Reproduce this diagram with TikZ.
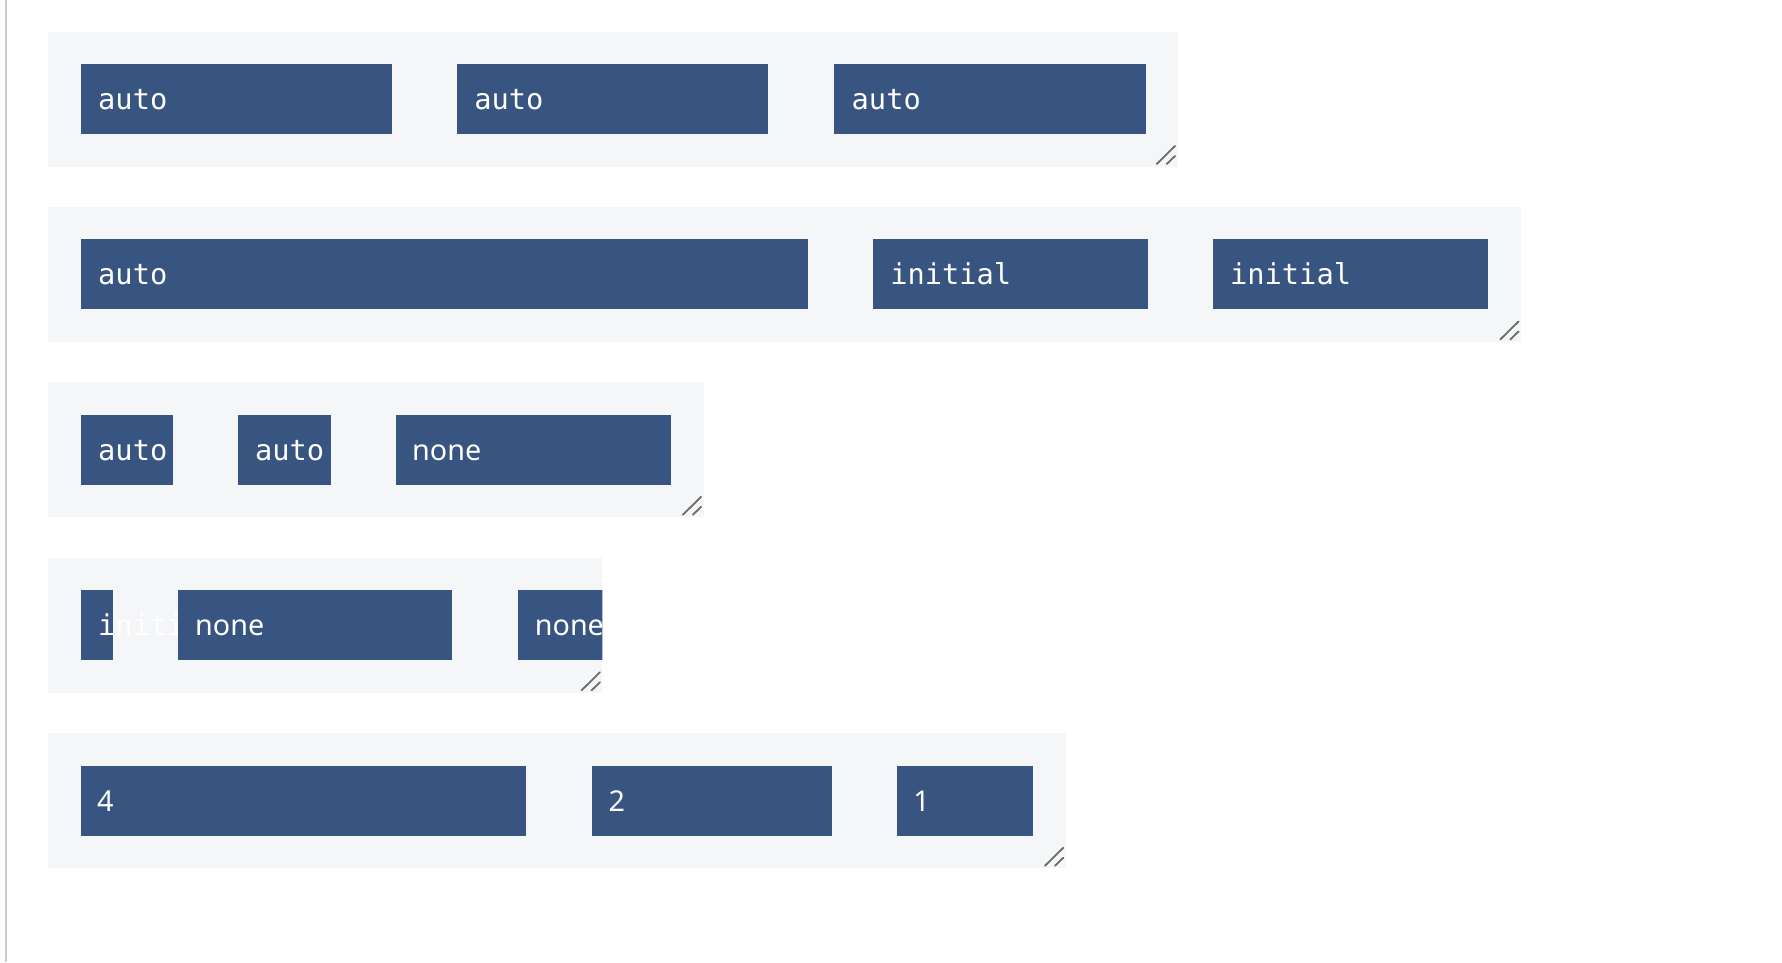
\documentclass[tikz,border=0pt]{standalone}
\usepackage{fontspec}
\newfontfamily\monof{DejaVu Sans Mono}
\newfontfamily\sansf{Noto Sans}
\definecolor{itembg}{HTML}{385480}
\definecolor{contbg}{HTML}{F5F6F8}
\definecolor{handlec}{HTML}{6B6B6B}
\definecolor{rulec}{HTML}{CCCCCC}
\tikzset{
  container/.style={fill=contbg, draw=none, inner sep=0pt, outer sep=0pt, anchor=north west, minimum height=135pt},
  item/.style={fill=itembg, draw=none, inner sep=0pt, outer sep=0pt, anchor=north west, minimum height=70pt},
  monotxt/.style={font=\monof\fontsize{28.7}{34}\selectfont, text=white, anchor=base west, inner sep=0pt},
  sanstxt/.style={font=\sansf\fontsize{28.7}{34}\selectfont, text=white, anchor=base west, inner sep=0pt},
  handle/.style={draw=handlec, line width=1.8pt, line cap=round},
}
\begin{document}
\begin{tikzpicture}[x=1pt,y=-1pt]
\useasboundingbox (0,0) rectangle (1782,962);
\fill[white] (0,0) rectangle (1782,962);
\fill[rulec] (5,0) rectangle (7,962);

% Row 1
\node[container, minimum width=1129.8pt] (c1) at (47.7,31.5) {};
\node[item, minimum width=311.4pt] (r1a) at (80.7,63.8) {};
\node[monotxt] (t1a) at (98,109.3) {auto};
\node[item, minimum width=311.4pt] (r1b) at (456.9,63.8) {};
\node[monotxt] (t1b) at (474.2,109.3) {auto};
\node[item, minimum width=311.4pt] (r1c) at (834.2,63.8) {};
\node[monotxt] (t1c) at (851.5,109.3) {auto};
\draw[handle] ([shift={(-20.7,-2.6)}]c1.south east) -- ([shift={(-2.4,-20.6)}]c1.south east);
\draw[handle] ([shift={(-10.7,-2.6)}]c1.south east) -- ([shift={(-2.4,-10.6)}]c1.south east);

% Row 2
\node[container, minimum width=1473.3pt] (c2) at (47.7,207) {};
\node[item, minimum width=727.3pt] (r2a) at (80.7,239.3) {};
\node[monotxt] (t2a) at (98,284.8) {auto};
\node[item, minimum width=275.1pt] (r2b) at (872.8,239.3) {};
\node[monotxt] (t2b) at (890.1,284.8) {initial};
\node[item, minimum width=275.1pt] (r2c) at (1212.6,239.3) {};
\node[monotxt] (t2c) at (1229.9,284.8) {initial};
\draw[handle] ([shift={(-20.7,-2.6)}]c2.south east) -- ([shift={(-2.4,-20.6)}]c2.south east);
\draw[handle] ([shift={(-10.7,-2.6)}]c2.south east) -- ([shift={(-2.4,-10.6)}]c2.south east);

% Row 3
\node[container, minimum width=655.8pt] (c3) at (47.7,382.4) {};
\node[item, minimum width=92pt] (r3a) at (80.7,414.7) {};
\node[monotxt] (t3a) at (98,460.2) {auto};
\node[item, minimum width=93.2pt] (r3b) at (237.5,414.7) {};
\node[monotxt] (t3b) at (254.8,460.2) {auto};
\node[item, minimum width=275pt] (r3c) at (395.5,414.7) {};
\node[sanstxt] (t3c) at (412,460.2) {none};
\draw[handle] ([shift={(-20.7,-2.6)}]c3.south east) -- ([shift={(-2.4,-20.6)}]c3.south east);
\draw[handle] ([shift={(-10.7,-2.6)}]c3.south east) -- ([shift={(-2.4,-10.6)}]c3.south east);

% Row 4
\node[container, minimum width=554.6pt] (c4) at (47.7,557.9) {};
\begin{scope}
\clip (47.7,557.9) rectangle (602.3,692.9);
\node[item, minimum width=31.8pt] (r4a) at (80.7,590.2) {};
\node[monotxt] (t4a) at (98,635.7) {initial};
\node[item, minimum width=273.9pt] (r4b) at (178.4,590.2) {};
\node[sanstxt] (t4b) at (195,635.7) {none};
\node[item, minimum width=90pt] (r4c) at (518.2,590.2) {};
\node[sanstxt] (t4c) at (534.7,635.7) {none};
\end{scope}
\draw[handle] ([shift={(-20.7,-2.6)}]c4.south east) -- ([shift={(-2.4,-20.6)}]c4.south east);
\draw[handle] ([shift={(-10.7,-2.6)}]c4.south east) -- ([shift={(-2.4,-10.6)}]c4.south east);

% Row 5
\node[container, minimum width=1018pt] (c5) at (47.7,733.3) {};
\node[item, minimum width=445.5pt] (r5a) at (80.7,765.6) {};
\node[sanstxt] (t5a) at (97,811.1) {4};
\node[item, minimum width=239.8pt] (r5b) at (592.1,765.6) {};
\node[sanstxt] (t5b) at (608.4,811.1) {2};
\node[item, minimum width=135.6pt] (r5c) at (896.9,765.6) {};
\node[sanstxt] (t5c) at (913.2,811.1) {1};
\draw[handle] ([shift={(-20.7,-2.6)}]c5.south east) -- ([shift={(-2.4,-20.6)}]c5.south east);
\draw[handle] ([shift={(-10.7,-2.6)}]c5.south east) -- ([shift={(-2.4,-10.6)}]c5.south east);
\end{tikzpicture}
\end{document}
